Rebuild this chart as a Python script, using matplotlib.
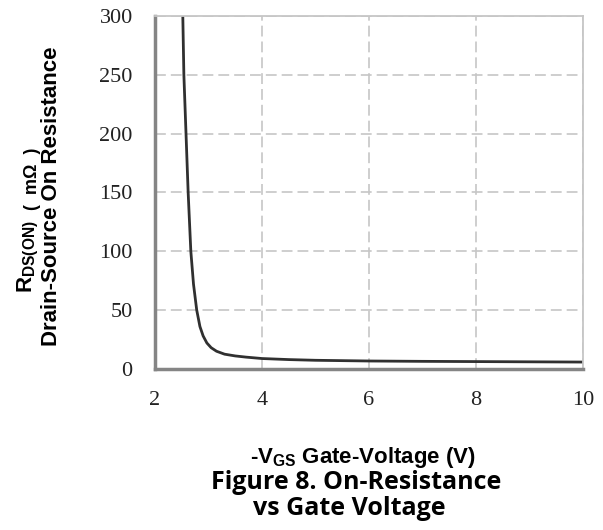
import numpy as np
import matplotlib.pyplot as plt

plt.rcParams['mathtext.fontset'] = 'custom'

# values
vgs = [2.52, 2.54, 2.58, 2.62, 2.67, 2.72, 2.78, 2.84, 2.90, 2.97, 3.05, 3.15, 3.30,
       3.50, 3.70, 4.0, 4.5, 5.0, 6.0, 7.0, 8.0, 9.0, 10.0]
rds = [300, 250, 200, 150, 100, 72, 50, 36, 28, 22, 18, 15, 12.5,
       11, 10, 8.8, 7.9, 7.3, 6.7, 6.4, 6.2, 6.0, 5.8]

xticks = [2, 4, 6, 8, 10]
yticks = [0, 50, 100, 150, 200, 250, 300]

fig = plt.figure(figsize=(6.03, 5.30), dpi=100)
ax = fig.add_axes([0.257, 0.304, 0.710, 0.666])

ax.plot(vgs, rds, color='#303030', lw=2.0, solid_capstyle='round')

ax.set_xlim(2, 10)
ax.set_ylim(0, 300)
ax.set_xticks(xticks)
ax.set_yticks(yticks)
ax.tick_params(length=0, labelsize=16)
ax.tick_params(axis='y', pad=16)
ax.tick_params(axis='x', pad=16)
for lab in ax.get_xticklabels() + ax.get_yticklabels():
    lab.set_family('Liberation Serif')
    lab.set_color('#222222')

ax.grid(True, color='#c6c6c6', lw=1.2, linestyle=(0, (6.5, 3)))
ax.set_axisbelow(True)

for s in ['left', 'bottom']:
    ax.spines[s].set_color('#858585')
    ax.spines[s].set_linewidth(2.5)
for s in ['top', 'right']:
    ax.spines[s].set_color('#c6c6c6')
    ax.spines[s].set_linewidth(1.3)

# y label, two lines; the unit sits at subscript level like in the source
t1 = fig.text(0.053, 0.447, r'R$_{\mathregular{DS(ON)}}$', rotation=90, rotation_mode='anchor',
              ha='left', va='baseline', fontsize=16, fontweight='bold', family='Liberation Sans')
fig.canvas.draw()
bb = t1.get_window_extent()
ytop = fig.transFigure.inverted().transform((0, bb.y1))[1]
fig.text(0.062, ytop, '  (  mΩ  )', rotation=90, rotation_mode='anchor', ha='left', va='baseline',
         fontsize=13, fontweight='bold', family='Liberation Sans')

fig.text(0.086, 0.630, 'Drain-Source On Resistance', rotation=90,
         ha='center', va='center', fontsize=16, fontweight='bold', family='Liberation Sans')

fig.text(0.602, 0.137, r'-V$_{\mathregular{GS}}$ Gate-Voltage (V)', ha='center', va='center',
         fontsize=16, fontweight='bold', family='Liberation Sans')
fig.text(0.59, 0.089, 'Figure 8. On-Resistance', ha='center', va='center',
         fontsize=18, fontweight='bold', family='Open Sans')
fig.text(0.58, 0.040, 'vs Gate Voltage', ha='center', va='center',
         fontsize=18, fontweight='bold', family='Open Sans')

fig.savefig('out.png', dpi=100)
